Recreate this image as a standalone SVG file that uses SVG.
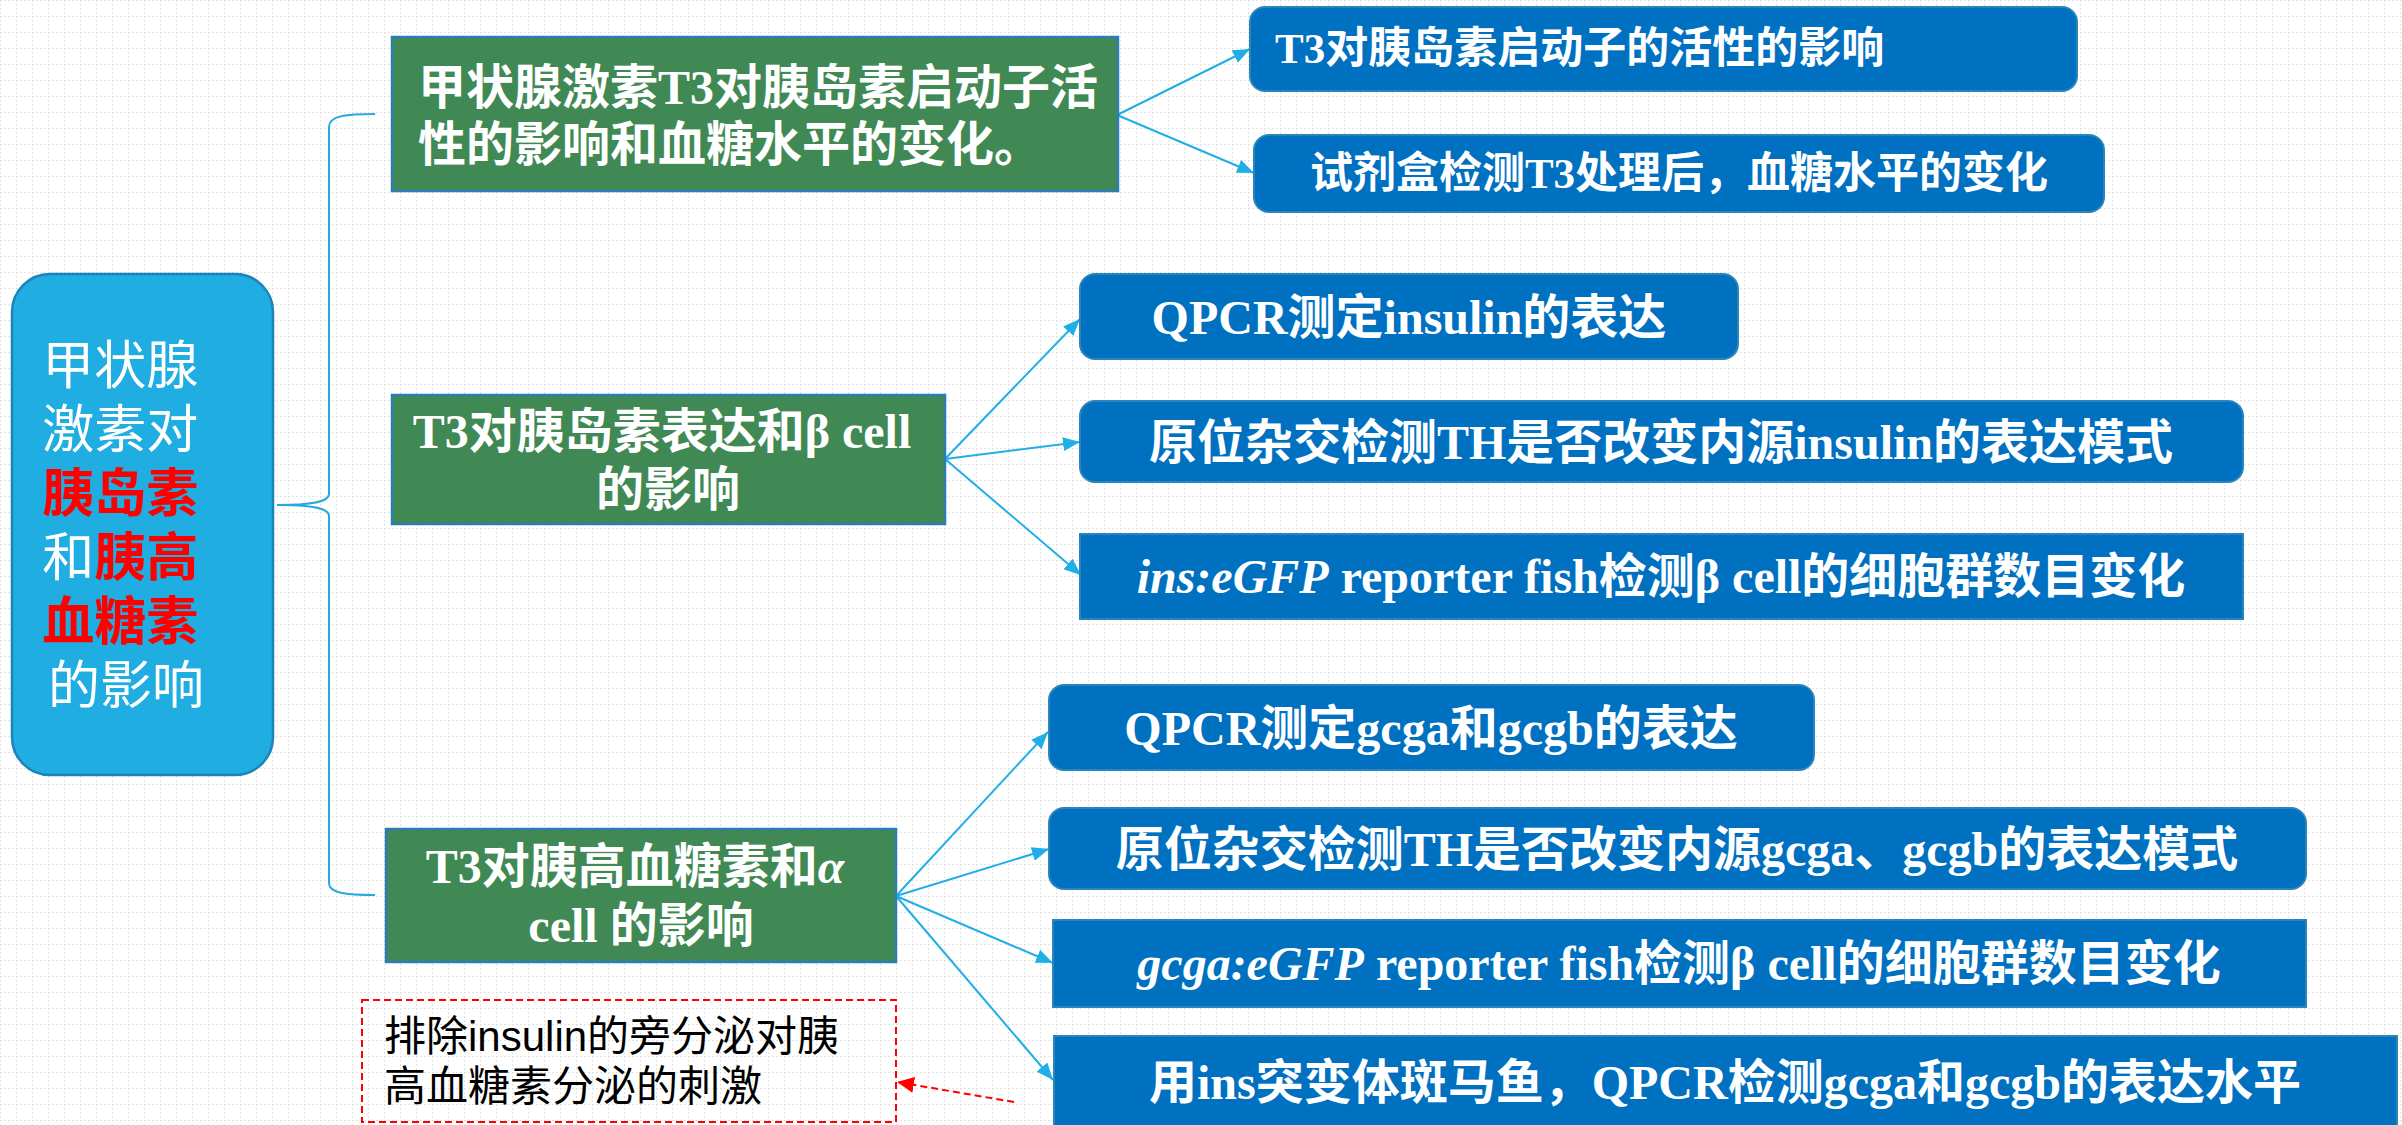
<svg xmlns="http://www.w3.org/2000/svg" width="2402" height="1125" viewBox="0 0 2402 1125">
<style>
.bg{fill:url(#grid)}
.root{fill:#1FADE2;stroke:#1C84B8;stroke-width:2.5}
.green{fill:#408954;stroke:#2C7DB6;stroke-width:2.5}
.blue{fill:#0070C0;stroke:#2A86BA;stroke-width:2}
.t{font-family:"Liberation Serif","Noto Sans CJK SC",serif;font-weight:bold;fill:#fff}
.rt{font-family:"Noto Sans CJK SC",sans-serif;font-size:52px;fill:#fff}
.red{fill:#FF0000;font-weight:bold}
.note{font-family:"Liberation Sans","Noto Sans CJK SC",sans-serif;font-size:42px;fill:#000}
.conn{fill:none;stroke:#1FAEE6;stroke-width:2}
.brace{fill:none;stroke:#29A8E0;stroke-width:2}
.dash{fill:none;stroke:#FF0000;stroke-width:2;stroke-dasharray:7 4}
</style>
<defs>
<pattern id="grid" width="16" height="16" patternUnits="userSpaceOnUse">
<rect width="16" height="16" fill="#ffffff"/>
<path d="M0 0.5H16M0.5 0V16" stroke="#e3e3e3" stroke-width="1" stroke-dasharray="2 2" fill="none"/>
</pattern>
<marker id="arr" markerUnits="userSpaceOnUse" markerWidth="18" markerHeight="14" refX="17" refY="7" orient="auto">
<path d="M0,0 L17,7 L0,14 Z" fill="#1FAEE6"/>
</marker>
<marker id="arrRed" markerUnits="userSpaceOnUse" markerWidth="18" markerHeight="16" refX="17" refY="8" orient="auto">
<path d="M0,0 L17,8 L0,16 Z" fill="#FF0000"/>
</marker>
</defs>
<rect class="bg" x="0" y="0" width="2402" height="1125"/>

<g id="connectors">
<path class="brace" d="M375,114 C345,114 329,116 329,127 L329,494 C329,502 312,505 277,505 C312,505 329,508 329,516 L329,883 C329,893 345,895 375,895"/>
<line class="conn" x1="1117" y1="115" x2="1250" y2="49" marker-end="url(#arr)"/>
<line class="conn" x1="1117" y1="115" x2="1254" y2="173" marker-end="url(#arr)"/>
<line class="conn" x1="945" y1="459" x2="1080" y2="319" marker-end="url(#arr)"/>
<line class="conn" x1="945" y1="459" x2="1080" y2="442" marker-end="url(#arr)"/>
<line class="conn" x1="945" y1="459" x2="1081" y2="575" marker-end="url(#arr)"/>
<line class="conn" x1="896" y1="896" x2="1048" y2="732" marker-end="url(#arr)"/>
<line class="conn" x1="896" y1="896" x2="1049" y2="849" marker-end="url(#arr)"/>
<line class="conn" x1="896" y1="896" x2="1053" y2="963" marker-end="url(#arr)"/>
<line class="conn" x1="896" y1="896" x2="1053" y2="1080" marker-end="url(#arr)"/>
<line class="dash" x1="1014" y1="1102" x2="897" y2="1082" marker-end="url(#arrRed)"/>
</g>

<g id="root">
<rect class="root" x="12" y="274" width="261" height="501" rx="38" ry="38"/>
<text class="rt" text-anchor="middle">
<tspan x="126" y="384">甲状腺</tspan>
<tspan x="126" y="448">激素对</tspan>
<tspan x="126" y="512" class="red">胰岛素</tspan>
<tspan x="126" y="576">和<tspan class="red">胰高</tspan></tspan>
<tspan x="126" y="640" class="red">血糖素</tspan>
<tspan x="126" y="704">的影响</tspan>
</text>
</g>

<g id="g1">
<rect class="green" x="392" y="37" width="726" height="154"/>
<text class="t" font-size="48">
<tspan x="418" y="104">甲状腺激素T3对胰岛素启动子活</tspan>
<tspan x="418" y="161">性的影响和血糖水平的变化。</tspan>
</text>
</g>

<g id="g2">
<rect class="green" x="392" y="395" width="553" height="129"/>
<text class="t" font-size="48" text-anchor="middle">
<tspan x="668" y="448">T3对胰岛素表达和β cell</tspan>
<tspan x="668" y="506">的影响</tspan>
</text>
</g>

<g id="g3">
<rect class="green" x="386" y="829" width="510" height="133"/>
<text class="t" font-size="48" text-anchor="middle">
<tspan x="641" y="883">T3对胰高血糖素和<tspan font-style="italic">α</tspan></tspan>
<tspan x="641" y="942">cell 的影响</tspan>
</text>
</g>

<g id="b1">
<rect class="blue" x="1250" y="7" width="827" height="84" rx="15"/>
<text class="t" font-size="43" x="1275" y="63">T3对胰岛素启动子的活性的影响</text>
</g>

<g id="b2">
<rect class="blue" x="1254" y="135" width="850" height="77" rx="15"/>
<text class="t" font-size="43" x="1679" y="188" text-anchor="middle">试剂盒检测T3处理后，血糖水平的变化</text>
</g>

<g id="b3">
<rect class="blue" x="1080" y="274" width="658" height="85" rx="15"/>
<text class="t" font-size="48" x="1409" y="334" text-anchor="middle">QPCR测定insulin的表达</text>
</g>

<g id="b4">
<rect class="blue" x="1080" y="401" width="1163" height="81" rx="15"/>
<text class="t" font-size="48" x="1661" y="459" text-anchor="middle">原位杂交检测TH是否改变内源insulin的表达模式</text>
</g>

<g id="b5">
<rect class="blue" x="1080" y="534" width="1163" height="85"/>
<text class="t" font-size="48" x="1661" y="593" text-anchor="middle"><tspan font-style="italic">ins:eGFP</tspan> reporter fish检测β cell的细胞群数目变化</text>
</g>

<g id="b6">
<rect class="blue" x="1049" y="685" width="765" height="85" rx="15"/>
<text class="t" font-size="48" x="1431" y="745" text-anchor="middle">QPCR测定gcga和gcgb的表达</text>
</g>

<g id="b7">
<rect class="blue" x="1049" y="808" width="1257" height="81" rx="15"/>
<text class="t" font-size="48" x="1677" y="866" text-anchor="middle">原位杂交检测TH是否改变内源gcga、gcgb的表达模式</text>
</g>

<g id="b8">
<rect class="blue" x="1053" y="920" width="1253" height="87"/>
<text class="t" font-size="48" x="1679" y="980" text-anchor="middle"><tspan font-style="italic">gcga:eGFP</tspan> reporter fish检测β cell的细胞群数目变化</text>
</g>

<g id="b9">
<rect class="blue" x="1054" y="1036" width="1343" height="100"/>
<text class="t" font-size="48" x="1725" y="1099" text-anchor="middle">用ins突变体斑马鱼，QPCR检测gcga和gcgb的表达水平</text>
</g>

<g id="note">
<rect class="dash" x="362" y="1000" width="534" height="122"/>
<text class="note">
<tspan x="384" y="1051">排除insulin的旁分泌对胰</tspan>
<tspan x="384" y="1101">高血糖素分泌的刺激</tspan>
</text>
</g>
</svg>
